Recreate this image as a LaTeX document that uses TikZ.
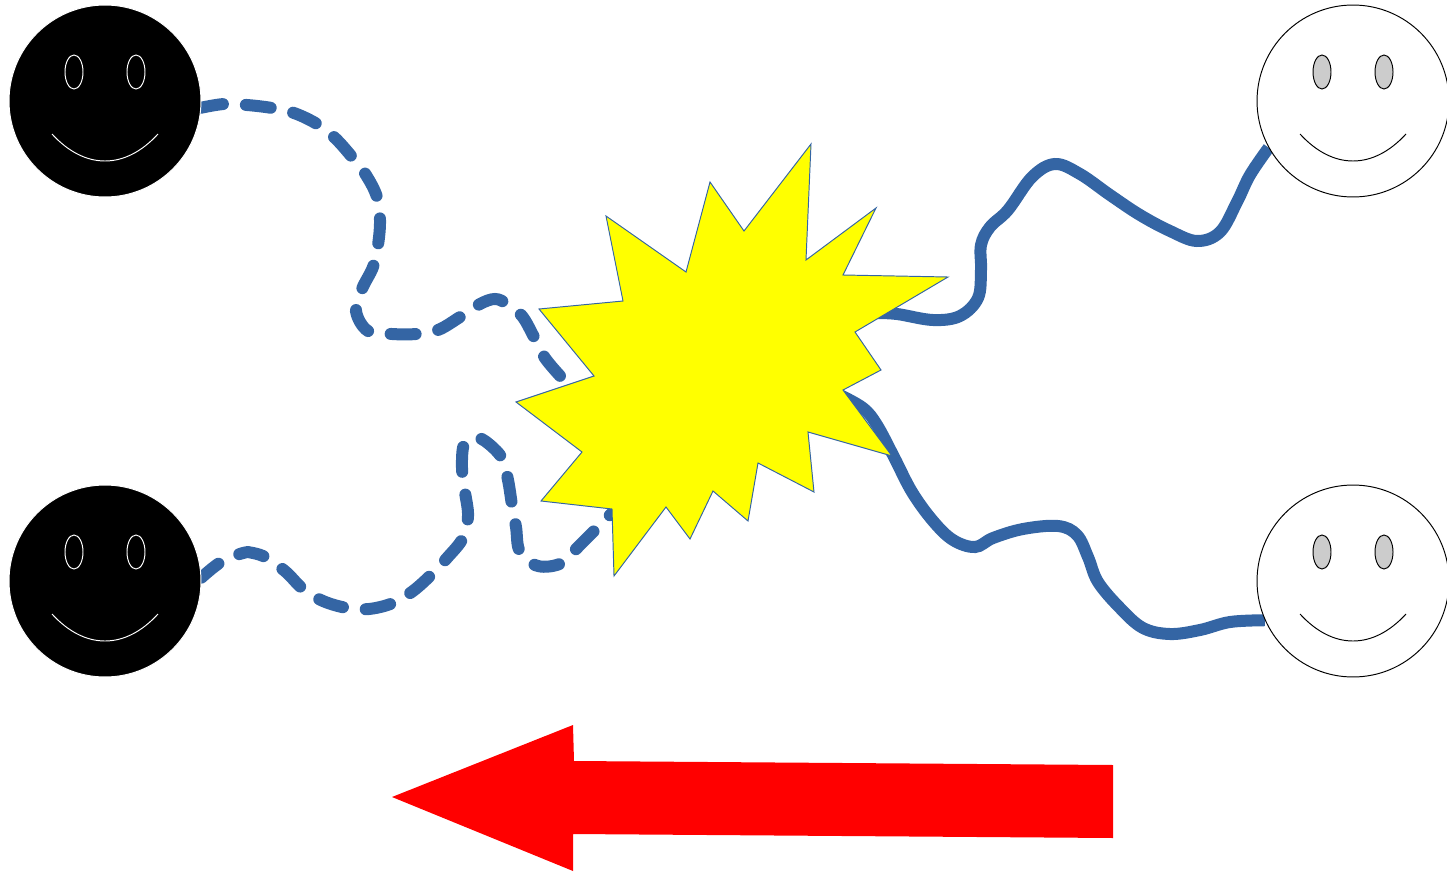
\documentclass[tikz,border=0pt]{standalone}
\usetikzlibrary{backgrounds}
\definecolor{ink}{HTML}{000000}
\definecolor{wire}{HTML}{3465A4}
\definecolor{eyegrey}{HTML}{CCCCCC}
\definecolor{flash}{HTML}{FFFF00}
\definecolor{warn}{HTML}{FF0000}

\begin{document}
\begin{tikzpicture}[
  x=.02cm, y=-.02cm,
  face/.style={circle, line width=.55pt, minimum size=3.84cm, inner sep=0pt},
  thin line/.style={line width=.55pt},
  link/.style={wire, line width=.24cm},
  gaplink/.style={link, line cap=round, dash pattern=on .5cm off .46cm, dash phase=.06cm},
]
\useasboundingbox (0,0) rectangle (1447,872);

% ---------- four faces ----------
\foreach \f/\cx/\cy/\bg/\fg/\eye in {faceA/105/101/ink/white/ink, faceB/105/581/ink/white/ink,
                                     faceC/1353/101/white/ink/eyegrey, faceD/1353/581/white/ink/eyegrey}
{
  \node[face, fill=\bg, draw=\fg] (\f) at (\cx,\cy) {};
  \draw[thin line, draw=\fg, fill=\eye] (\cx-31,\cy-29) ellipse (9 and 17);
  \draw[thin line, draw=\fg, fill=\eye] (\cx+31,\cy-29) ellipse (9 and 17);
  \draw[thin line, draw=\fg] (\cx-53,\cy+33) .. controls (\cx-20,\cy+69) and (\cx+20,\cy+69) .. (\cx+53,\cy+33);
}

% ---------- ends hidden behind the burst ----------
\coordinate (hitA) at (562,378);
\coordinate (hitB) at (614,511);
\coordinate (hitC) at (875,313);
\coordinate (hitD) at (838,394);

\begin{pgfonlayer}{background}
% ---------- dashed connectors ----------
\draw[gaplink] plot[smooth, tension=.6] coordinates {(faceA.-4) (224,104) (247,105) (272,108) (294,113) (317,124)
  (335,138) (352,157) (366,175) (377,197) (380,220) (378,245) (373,267) (362,289) (356,311) (368,331)
  (392,334) (416,334) (438,330) (460,317) (480,304) (495,299) (507,304) (522,316) (534,337) (545,358) (hitA)};
\draw[gaplink] plot[smooth, tension=.6] coordinates {(faceB.2) (221,562) (243,553) (253,553) (267,558) (286,572)
  (303,589) (323,601) (347,608) (369,609) (393,603) (413,591) (432,574) (447,558) (463,538) (468,516)
  (465,492) (462,468) (464,444) (474,438) (485,441) (502,458) (508,480) (512,505) (516,527) (520,552)
  (538,566) (562,563) (578,547) (596,529) (hitB)};

% ---------- solid connectors ----------
\draw[link] plot[smooth, tension=.6] coordinates {(hitC) (897,314) (933,320) (960,316) (978,298) (981,270)
  (981,245) (990,227) (1008,210) (1032,177) (1055,164) (1080,174) (1110,195) (1140,215) (1170,231)
  (1197,241) (1220,232) (1237,202) (1250,175) (faceC.209)};
\draw[link] plot[smooth, tension=.6] coordinates {(hitD) (863,408) (877,425) (894,457) (912,492) (933,521) (953,540)
  (975,547) (993,538) (1023,529) (1058,526) (1077,535) (1088,557) (1098,582) (1120,608) (1143,628) (1170,634)
  (1200,630) (1230,622) (faceD.204)};
\end{pgfonlayer}

% ---------- burst ----------
\draw[thin line, draw=wire, fill=flash] (811,144) -- (806,260) -- (876,208) -- (843,275) -- (948,277) -- (855,332)
  -- (881,370) -- (843,390) -- (892,456) -- (808,432) -- (814,492) -- (758,463) -- (748,521) -- (713,491)
  -- (690,539) -- (666,507) -- (614,576) -- (612,509) -- (541,501) -- (582,452) -- (516,402) -- (594,376)
  -- (539,309) -- (623,301) -- (606,216) -- (686,272) -- (710,182) -- (744,231) -- cycle;

% ---------- big arrow ----------
\fill[warn] (392,797) -- (573,725) -- (574,761) -- (1113,765) -- (1113,838) -- (573,834) -- (573,871) -- cycle;

\end{tikzpicture}
\end{document}
